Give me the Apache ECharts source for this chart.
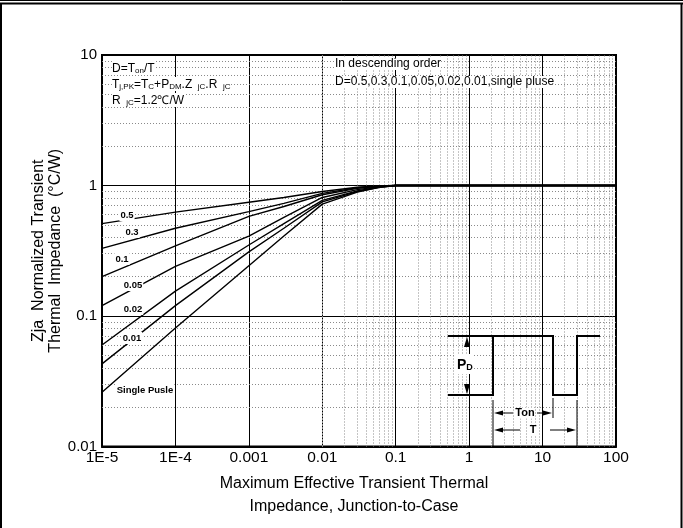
<!DOCTYPE html>
<html>
<head>
<meta charset="utf-8">
<script src="https://cdn.jsdelivr.net/npm/echarts@6/dist/echarts.min.js"></script>
<style>
  html, body { margin: 0; padding: 0; background: #fff; }
  #chart { width: 683px; height: 528px; }
</style>
</head>
<body>
<div id="chart"></div>
<script>
// pulse width (s) where the curves were read
const timePoints = [1e-5, 1e-4, 1e-3, 0.003, 0.01, 0.03, 0.06, 0.1, 1, 10, 100]

// normalized Zth for each duty cycle, top to bottom
const dutyLabels = ['0.5', '0.3', '0.1', '0.05', '0.02', '0.01', 'Single Pusle']
const zD05 = [0.51, 0.625, 0.745, 0.81, 0.90, 0.97, 0.99, 1, 1, 1, 1]
const zD03 = [0.33, 0.47, 0.63, 0.73, 0.87, 0.96, 0.99, 1, 1, 1, 1]
const zD01 = [0.20, 0.345, 0.58, 0.69, 0.85, 0.95, 0.985, 1, 1, 1, 1]
const zD005 = [0.12, 0.24, 0.41, 0.57, 0.81, 0.93, 0.98, 1, 1, 1, 1]
const zD002 = [0.06, 0.155, 0.35, 0.51, 0.77, 0.91, 0.975, 1, 1, 1, 1]
const zD001 = [0.043, 0.12, 0.31, 0.47, 0.75, 0.90, 0.97, 1, 1, 1, 1]
const zSingle = [0.026, 0.081, 0.243, 0.41, 0.72, 0.89, 0.97, 1, 1, 1, 1]
const curves = [zD05, zD03, zD01, zD005, zD002, zD001, zSingle]

const xTickLabels = ['1E-5', '1E-4', '0.001', '0.01', '0.1', '1', '10', '100']
const yTickLabels = ['0.01', '0.1', '1', '10']

const FONT = 'Liberation Sans, Arial, sans-serif'

// minor grid (2..9 of every decade)
let xMinor = []
for (let e = -5; e < 2; e++) for (let k = 2; k <= 9; k++) xMinor.push(k * Math.pow(10, e))
let yMinor = []
for (let e = -2; e < 1; e++) for (let k = 2; k <= 9; k++) yMinor.push(k * Math.pow(10, e))

let chart = echarts.init(document.getElementById('chart'))

// curve labels sit on the lines, white box hides the line behind
const labelPos = [[127, 215], [132, 232], [122, 259], [133, 285], [133, 309], [132, 338], [145, 390]]

function txt(x, y, text, extra) {
    return {
        type: 'text', x: x, y: y, z: 100,
        style: Object.assign({ text: text, fill: '#000', font: '12px ' + FONT, align: 'left', verticalAlign: 'middle' }, extra || {})
    }
}
function line(x1, y1, x2, y2, w) {
    return { type: 'line', z: 100, shape: { x1: x1, y1: y1, x2: x2, y2: y2 }, style: { stroke: '#000', lineWidth: w || 1.5 } }
}
function arrowHead(pts) {
    return { type: 'polygon', z: 100, shape: { points: pts }, style: { fill: '#000' } }
}

const rich = {
    n: { fontSize: 12, fontFamily: FONT, lineHeight: 14, verticalAlign: 'bottom' },
    s: { fontSize: 8, fontFamily: FONT, lineHeight: 10, verticalAlign: 'bottom' }
}

let graphics = [
    // outer frame
    line(0, 0.5, 683, 0.5, 1),
    line(0, 3.5, 683, 3.5, 2),
    line(1, 3, 1, 528, 2),
    line(681.5, 3, 681.5, 528, 2),
    // top-left notes
    { type: 'text', x: 112, y: 68, z: 100, style: { text: '{n|D=T}{s|on}{n|/T}', rich: rich, verticalAlign: 'middle', backgroundColor: '#fff' } },
    { type: 'text', x: 112, y: 84, z: 100, style: { text: '{n|T}{s|j,PK}{n|=T}{s|C}{n|+P}{s|DM}{n|.Z }{s| jC}{n|.R }{s| jC}', rich: rich, verticalAlign: 'middle', backgroundColor: '#fff' } },
    { type: 'text', x: 112, y: 100, z: 100, style: { text: '{n|R }{s| jC}{n|=1.2℃/W}', rich: rich, verticalAlign: 'middle', backgroundColor: '#fff' } },
    // top-right notes
    txt(335, 64, 'In descending order', { backgroundColor: '#fff' }),
    txt(335, 82, 'D=0.5,0.3,0.1,0.05,0.02,0.01,single pluse', { backgroundColor: '#fff' }),
    // pulse sketch
    { type: 'polyline', z: 100, shape: { points: [[448, 395], [493, 395], [493, 336], [553, 336], [553, 395], [577, 395], [577, 336], [600, 336]] }, style: { stroke: '#000', lineWidth: 2, fill: null } },
    line(448, 336, 493, 336, 2),
    arrowHead([[467, 337], [464, 347], [470, 347]]),
    arrowHead([[467, 394], [464, 384], [470, 384]]),
    { type: 'text', x: 456, y: 364, z: 100, style: { text: '{p|P}{d|D}', rich: { p: { fontSize: 14, fontWeight: 'bold', fontFamily: FONT, lineHeight: 16, verticalAlign: 'bottom' }, d: { fontSize: 9, fontWeight: 'bold', fontFamily: FONT, lineHeight: 11, verticalAlign: 'bottom' } }, verticalAlign: 'middle', backgroundColor: '#fff', padding: [2, 1] } },
    line(493, 400, 493, 448, 1),
    line(577, 400, 577, 448, 1),
    line(553, 398, 553, 418, 1),
    line(500, 413, 513, 413, 1),
    arrowHead([[494, 413], [503, 410.5], [503, 415.5]]),
    line(537, 413, 545, 413, 1),
    arrowHead([[552, 413], [543, 410.5], [543, 415.5]]),
    txt(525, 413, 'Ton', { font: 'bold 11px ' + FONT, align: 'center', backgroundColor: '#fff' }),
    line(500, 430, 520, 430, 1),
    arrowHead([[494, 430], [503, 427.5], [503, 432.5]]),
    line(550, 430, 569, 430, 1),
    arrowHead([[576, 430], [567, 427.5], [567, 432.5]]),
    txt(533, 430, 'T', { font: 'bold 11px ' + FONT, align: 'center', backgroundColor: '#fff' })
]

dutyLabels.forEach((name, i) => {
    graphics.push(txt(labelPos[i][0], labelPos[i][1], name, {
        font: 'bold 9.5px ' + FONT, align: 'center', backgroundColor: '#fff', padding: [1, 1]
    }))
})

let series = curves.map((vals, i) => ({
    name: dutyLabels[i],
    type: 'line',
    data: timePoints.map((t, j) => [t, vals[j]]),
    symbol: 'none',
    smooth: false,
    lineStyle: { color: '#000', width: 1.4 },
    z: 5
}))

// minor grid lines as dotted markLines
series.push({
    type: 'line',
    data: [],
    silent: true,
    z: 1,
    markLine: {
        silent: true,
        symbol: ['none', 'none'],
        label: { show: false },
        lineStyle: { type: [1, 2], color: '#8a8a8a', width: 1 },
        animation: false,
        data: xMinor.map(v => ({ xAxis: v })).concat(yMinor.map(v => ({ yAxis: v })))
    }
})

let option = {
    animation: false,
    backgroundColor: '#fff',
    grid: { left: 102, right: 67, top: 55, bottom: 81.5, show: true, borderColor: '#000', borderWidth: 2 },
    xAxis: {
        type: 'log',
        logBase: 10,
        min: 1e-5,
        max: 100,
        axisLine: { show: true, lineStyle: { color: '#000', width: 2 } },
        axisTick: { show: false },
        splitLine: { show: true, lineStyle: { color: '#000', width: 1 } },
        axisLabel: {
            color: '#000', fontSize: 15.5, fontFamily: FONT, margin: 3,
            formatter: v => xTickLabels[Math.round(Math.log10(v)) + 5]
        },
        name: 'Maximum Effective Transient Thermal\nImpedance, Junction-to-Case',
        nameLocation: 'middle',
        nameGap: 25,
        nameMoveOverlap: false,
        nameTextStyle: { color: '#000', fontSize: 16, fontFamily: FONT, lineHeight: 23.5, padding: [0, 10, 0, 0] }
    },
    yAxis: {
        type: 'log',
        logBase: 10,
        min: 0.01,
        max: 10,
        axisLine: { show: true, lineStyle: { color: '#000', width: 2 } },
        axisTick: { show: false },
        splitLine: { show: true, lineStyle: { color: '#000', width: 1 } },
        axisLabel: {
            color: '#000', fontSize: 15, fontFamily: FONT, margin: 5,
            formatter: v => yTickLabels[Math.round(Math.log10(v)) + 2]
        },
        name: 'Zja  Normalized Transient\nThermal  Impedance  (°C/W)',
        nameLocation: 'middle',
        nameRotate: 90,
        nameGap: 38,
        nameMoveOverlap: false,
        nameTextStyle: { color: '#000', fontSize: 16, fontFamily: FONT, lineHeight: 17 }
    },
    graphic: graphics,
    series: series
}

option && chart.setOption(option)
</script>
</body>
</html>
